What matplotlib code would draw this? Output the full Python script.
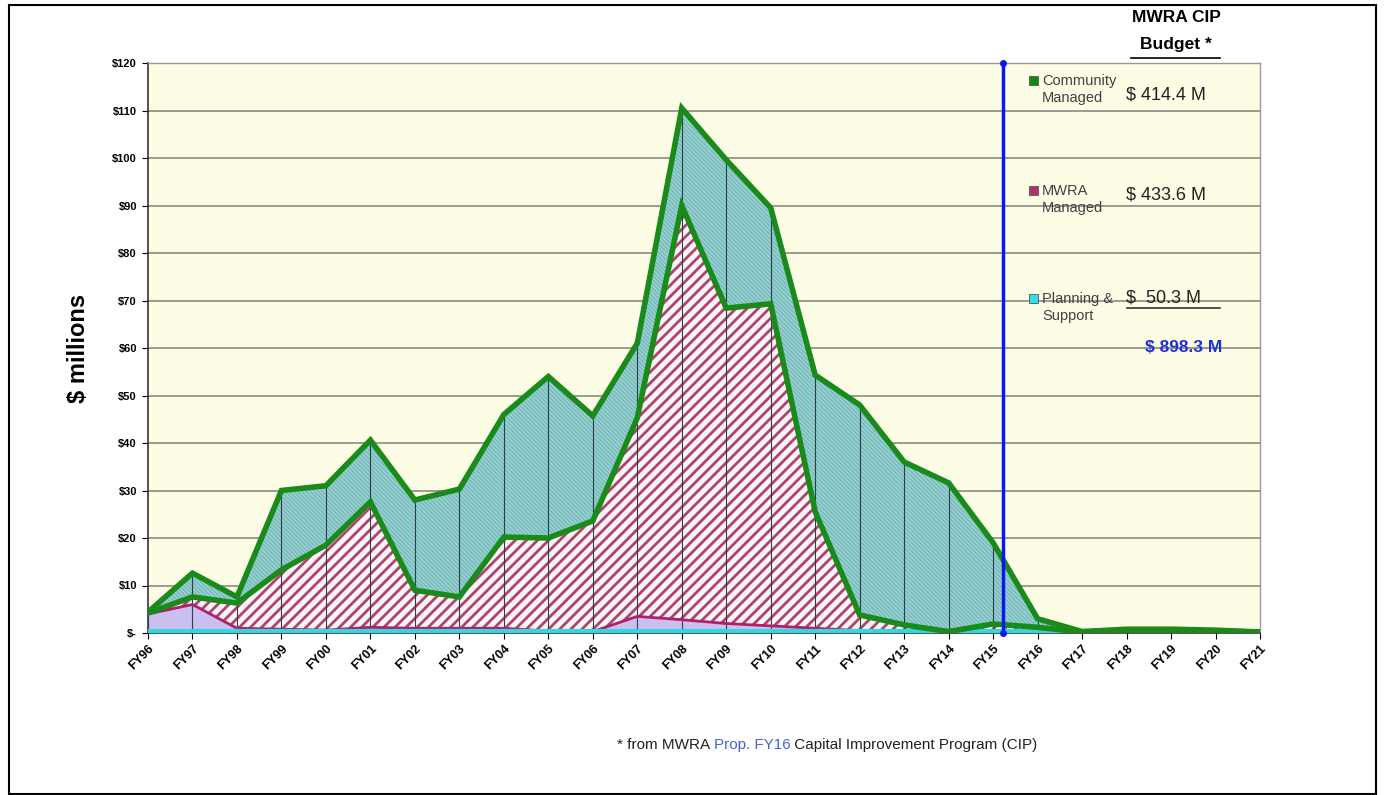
import matplotlib
matplotlib.use("Agg")
import matplotlib.pyplot as plt
import numpy as np
from matplotlib.lines import Line2D
from matplotlib.patches import Rectangle

years = ["FY96","FY97","FY98","FY99","FY00","FY01","FY02","FY03","FY04","FY05",
         "FY06","FY07","FY08","FY09","FY10","FY11","FY12","FY13","FY14","FY15",
         "FY16","FY17","FY18","FY19","FY20","FY21"]
planning = [4.0, 6.0, 1.0, 0.8, 0.6, 1.2, 1.0, 1.0, 1.0, 0.4,
            0.3, 3.5, 2.8, 2.0, 1.5, 1.0, 0.5, 0.3, 0.2, 0.2,
            0.1, 0.1, 0.1, 0.1, 0.1, 0.1]
mwra_top = [4.2, 7.6, 6.3, 13.3, 18.5, 27.6, 9.0, 7.6, 20.2, 20.0,
            23.6, 45.3, 90.0, 68.4, 69.3, 25.5, 3.8, 1.7, 0.3, 1.9,
            1.2, 0.2, 0.5, 0.5, 0.4, 0.2]
total_top = [4.4, 12.6, 7.6, 30.0, 31.0, 40.6, 28.0, 30.3, 46.0, 54.0,
             45.7, 61.0, 110.5, 99.6, 89.5, 54.3, 48.0, 36.0, 31.6, 19.0,
             3.0, 0.3, 0.8, 0.8, 0.6, 0.2]
mwra = [m - p for m, p in zip(mwra_top, planning)]
community = [t - m for t, m in zip(total_top, mwra_top)]
yticks = [0, 10, 20, 30, 40, 50, 60, 70, 80, 90, 100, 110, 120]
ytick_labels = ["$-", "$10", "$20", "$30", "$40", "$50", "$60", "$70", "$80",
                "$90", "$100", "$110", "$120"]
budget_cats = ["Community\nManaged", "MWRA\nManaged", "Planning &\nSupport"]
budget_vals = ["$ 414.4 M", "$ 433.6 M", "$  50.3 M"]
budget_total = "$ 898.3 M"
cutoff = 19.22

plt.rcParams['font.family'] = ['Liberation Sans', 'DejaVu Sans']

W, H = 1384, 795
fig = plt.figure(figsize=(W/100, H/100), dpi=100)
fig.patch.set_facecolor('white')
ax = fig.add_axes([148/W, 1-633/H, (1260-148)/W, (633-63)/H])
ax.set_facecolor('#fdfde6')

x = np.arange(len(years))
p = np.array(planning)
m = p + np.array(mwra)
t = m + np.array(community)

plt.rcParams['hatch.linewidth'] = 2.0
ax.fill_between(x, 0, p, facecolor='#cbbff0', edgecolor='none', zorder=2)
ax.fill_between(x, p, m, facecolor='#fbf4f6', edgecolor='#ad4470', hatch='///',
                linewidth=0, zorder=2)
plt.rcParams['hatch.linewidth'] = 0.8
ax.fill_between(x, m, t, facecolor='#78bcbe', edgecolor='#a6d6d6', hatch='\\\\\\\\\\\\\\\\',
                linewidth=0, zorder=2)
ax.vlines(x, 0, t, color='#2a4048', lw=0.8, zorder=3)
ax.plot(x, p, color='#b0206a', lw=2, zorder=4)
ax.plot(x, m, color='#1a8a1a', lw=4, zorder=5, solid_joinstyle='miter')
ax.plot(x, t, color='#1a8a1a', lw=4, zorder=5, solid_joinstyle='miter')
ax.plot([0, x[-1]], [0.35, 0.35], color='#30d8e0', lw=3, zorder=4)

ax.set_xlim(0, len(years)-1)
ax.set_ylim(0, 120)
ax.set_yticks(yticks)
ax.set_yticklabels(ytick_labels, fontsize=8, fontweight='bold')
ax.set_xticks(x)
ax.set_xticklabels(years, rotation=45, ha='right', va='top', fontsize=9,
                   fontweight='bold', rotation_mode='anchor')
ax.tick_params(axis='x', length=4, pad=3)
ax.tick_params(axis='y', length=4, pad=4)
ax.yaxis.grid(True, color='#8a8a80', lw=1.2, zorder=1)
ax.set_axisbelow(True)
for s in ['left', 'bottom']:
    ax.spines[s].set_color('#333333')
    ax.spines[s].set_linewidth(1.2)
for s in ['top', 'right']:
    ax.spines[s].set_color('#999999')
    ax.spines[s].set_linewidth(1.0)
ax.set_ylabel("$ millions", fontsize=17, fontweight='bold', labelpad=16)

ax.plot([cutoff, cutoff], [0, 120], color='#0a18f0', lw=2.5, zorder=6,
        marker='o', markersize=4, clip_on=False)

def fx(px):
    return px / W
def fy(py):
    return 1 - py / H

fig.text(fx(1176), fy(18), "MWRA CIP", ha='center', va='center', fontsize=12.5, fontweight='bold')
fig.text(fx(1176), fy(45), "Budget *", ha='center', va='center', fontsize=12.5, fontweight='bold')
fig.add_artist(Line2D([fx(1131), fx(1220)], [fy(58), fy(58)], color='black', lw=1.2))

marker_cols = ['#108a10', '#b0306a', '#30e0e8']
ys = [80, 190, 298]
for c, yy, lab, val in zip(marker_cols, ys, budget_cats, budget_vals):
    fig.add_artist(Rectangle((fx(1029), fy(yy+5)), 9/W, 9/H, facecolor=c,
                             edgecolor='#555555', lw=0.6, transform=fig.transFigure))
    fig.text(fx(1042), fy(yy-6), lab, ha='left', va='top', fontsize=10.5,
             color='#404040', linespacing=1.25)
    dy = 15 if yy == 80 else (5 if yy == 190 else 0)
    fig.text(fx(1126), fy(yy+dy), val, ha='left', va='center', fontsize=13, color='#222222')
fig.add_artist(Line2D([fx(1127), fx(1220)], [fy(308), fy(308)], color='#333333', lw=1.2))
fig.text(fx(1222), fy(348), budget_total, ha='right', va='center', fontsize=12.5,
         fontweight='bold', color='#2030d8')

t1 = fig.text(fx(617), fy(745), "* from MWRA ", ha='left', va='center', fontsize=11, color='#222222')
fig.canvas.draw()
r = fig.canvas.get_renderer()
bb = t1.get_window_extent(r)
t2 = fig.text(bb.x1 / W, fy(745), "Prop. FY16", ha='left', va='center', fontsize=11, color='#4a62d8')
bb2 = t2.get_window_extent(r)
fig.text(bb2.x1 / W, fy(745), " Capital Improvement Program (CIP)", ha='left', va='center',
         fontsize=11, color='#222222')

fig.add_artist(Rectangle((fx(9), fy(794)), (1376-9)/W, (794-5)/H, fill=False,
                         edgecolor='black', lw=1.5, transform=fig.transFigure))

fig.savefig("out.png", dpi=100, facecolor='white')
